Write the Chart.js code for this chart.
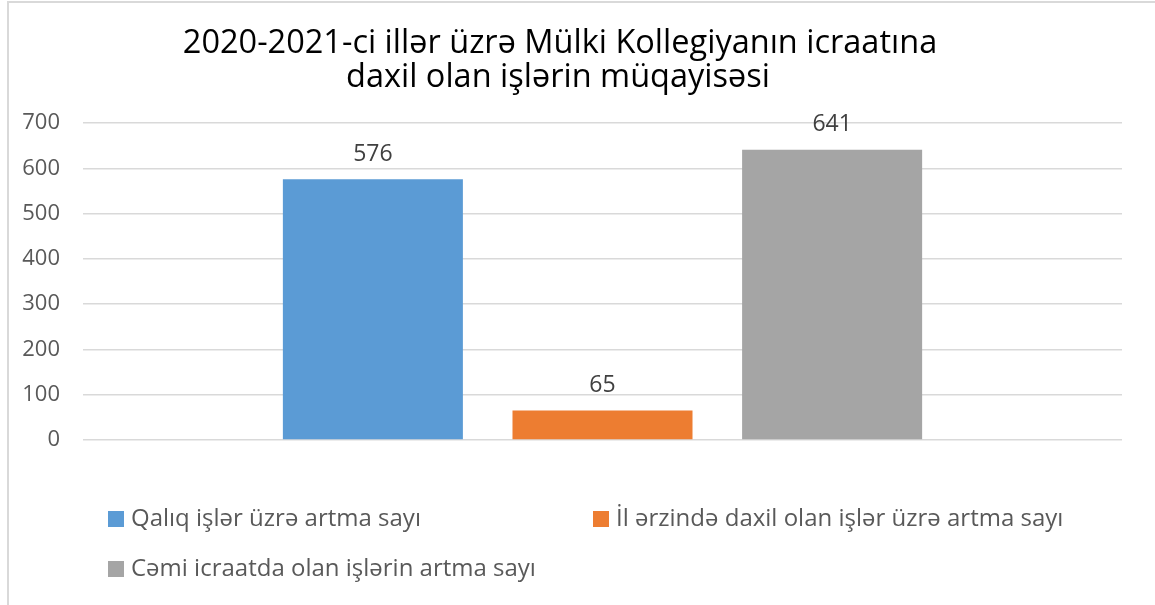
<!DOCTYPE html>
<html>
<head>
<meta charset="utf-8">
<script src="https://cdn.jsdelivr.net/npm/chart.js@4"></script>
<style>
  html, body { margin: 0; padding: 0; background: #fff; overflow: hidden; }
  #wrap { position: relative; width: 1155px; height: 605px; }
  #frame { position: absolute; left: 7px; top: 1px; width: 1300px; height: 700px;
           border-left: 2px solid #d9d9d9; border-top: 2px solid #d9d9d9; }
  canvas { position: absolute; left: 0; top: 0; }
</style>
</head>
<body>
<div id="wrap">
  <div id="frame"></div>
  <canvas id="myChart" width="1155" height="605"></canvas>
</div>
<script>
const titleLines = ['2020-2021-ci illər üzrə Mülki Kollegiyanın icraatına', 'daxil olan işlərin müqayisəsi'];
const categories = [''];
const seriesNames = [
    'Qalıq işlər üzrə artma sayı',
    'İl ərzində daxil olan işlər üzrə artma sayı',
    'Cəmi icraatda olan işlərin artma sayı'
];
const qaliqValues = [576];
const ilErzindeValues = [65];
const cemiValues = [641];
const colors = ['#5B9BD5', '#ED7D31', '#A5A5A5'];
const yTicks = [0, 100, 200, 300, 400, 500, 600, 700];

const FONT = "'Open Sans', sans-serif";

// title drawn by hand, centered a bit left of the plot like the original
const titlePlugin = {
    id: 'titlePlugin',
    afterDraw(chart) {
        const ctx = chart.ctx;
        ctx.save();
        ctx.fillStyle = '#000';
        ctx.font = '32.5px ' + FONT;
        ctx.textAlign = 'center';
        ctx.textBaseline = 'alphabetic';
        ctx.fillText(titleLines[0], 560, 53);
        ctx.fillText(titleLines[1], 558, 87);
        ctx.restore();
    }
};

// value labels above each bar
const valueLabels = {
    id: 'valueLabels',
    afterDatasetsDraw(chart) {
        const ctx = chart.ctx;
        ctx.save();
        ctx.fillStyle = '#404040';
        ctx.font = '23px ' + FONT;
        ctx.textAlign = 'center';
        ctx.textBaseline = 'middle';
        chart.data.datasets.forEach((ds, i) => {
            chart.getDatasetMeta(i).data.forEach((bar, j) => {
                ctx.fillText(ds.data[j], bar.x, bar.y - 25);
            });
        });
        ctx.restore();
    }
};

// legend in two columns like the original
const gridLegend = {
    id: 'gridLegend',
    afterDraw(chart) {
        const ctx = chart.ctx;
        const cols = [108, 593];
        const rows = [519, 569];
        ctx.save();
        ctx.font = '24px ' + FONT;
        ctx.textBaseline = 'middle';
        chart.data.datasets.forEach((ds, i) => {
            const x = cols[i % 2];
            const y = rows[Math.floor(i / 2)];
            ctx.fillStyle = ds.backgroundColor;
            ctx.fillRect(x, y - 8, 16, 16);
            ctx.fillStyle = '#595959';
            ctx.fillText(ds.label, x + 23, y);
        });
        ctx.restore();
    }
};

const ctx = document.getElementById('myChart').getContext('2d');
new Chart(ctx, {
    type: 'bar',
    data: {
        labels: categories,
        datasets: [
            { label: seriesNames[0], data: qaliqValues, backgroundColor: colors[0] },
            { label: seriesNames[1], data: ilErzindeValues, backgroundColor: colors[1] },
            { label: seriesNames[2], data: cemiValues, backgroundColor: colors[2] }
        ]
    },
    options: {
        responsive: false,
        animation: false,
        devicePixelRatio: 1,
        categoryPercentage: 0.663,
        barPercentage: 0.784,
        layout: { padding: { left: 0, right: 33, top: 123, bottom: 165 } },
        plugins: {
            legend: { display: false },
            title: { display: false },
            tooltip: { enabled: false }
        },
        scales: {
            x: { display: false },
            y: {
                min: 0,
                max: 700,
                afterBuildTicks(scale) { scale.ticks = yTicks.map(v => ({ value: v })); },
                afterFit(scale) { scale.width = 83; },
                border: { display: false },
                grid: { color: '#d9d9d9', lineWidth: 1.5, drawTicks: false },
                ticks: {
                    padding: 23,
                    color: '#595959',
                    font: { family: FONT, size: 22 }
                }
            }
        }
    },
    plugins: [titlePlugin, valueLabels, gridLegend]
});
</script>
</body>
</html>
